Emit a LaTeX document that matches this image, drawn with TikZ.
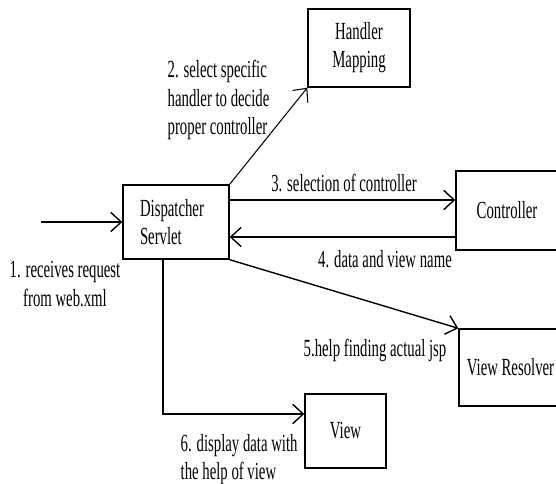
\documentclass[tikz,border=0pt]{standalone}
\usepackage{fontspec}
\setmainfont{Liberation Serif}[FakeStretch=0.6]
\usetikzlibrary{arrows.meta}

\begin{document}
\begin{tikzpicture}[x=0.02cm,y=-0.02cm,>={Straight Barb[length=6pt,width=11pt]},
  font=\fontsize{14pt}{16pt}\selectfont,line width=0.8pt,
  box/.style={draw,rectangle,inner sep=0pt,align=center},
  lbl/.style={inner sep=0pt,align=left}]
\useasboundingbox (0,0) rectangle (556,484);
\clip (0,0) rectangle (556,484);
% components
\node[box,minimum width=2.04cm,minimum height=1.56cm] (hm) at (359,48) {Handler\\Mapping};
\node[box,align=left,inner xsep=0.34cm,text width=1.44cm,minimum height=1.48cm] (ds) at (176,222) {Dispatcher\\Servlet};
\node[box,minimum width=2.04cm,minimum height=1.58cm] (ctl) at (507,210.5) {Controller};
\node[box,minimum width=2.06cm,minimum height=1.54cm] (vr) at (510.5,367.5) {View Resolver};
\node[box,minimum width=1.62cm,minimum height=1.48cm] (vw) at (345.5,431) {View};
% flow
\coordinate (src) at (41,222);
\draw[->] (src) -- (ds);
\draw[->,line width=0.6pt] (ds.north east) -- (hm.south west);
\draw[->] ([yshift=0.44cm]ds.east) -- ([yshift=0.44cm]ds.east -| ctl.west);
\draw[->] ([yshift=-0.3cm]ds.east -| ctl.west) -- ([yshift=-0.3cm]ds.east);
\draw[->] (ds.south east) -- (vr.north west);
\draw[->] ([xshift=-0.26cm]ds.south) |- ([yshift=0.34cm]vw.west);
% step labels
\node[lbl,align=center] (l1) at (65,284) {1. receives request\\from web.xml};
\node[lbl,anchor=west] (l2) at (167,100) {2. select specific\\handler to decide\\proper controller};
\node[lbl] (l3) at (344,183) {3. selection of controller};
\node[lbl] (l4) at (385,259) {4. data and view name};
\node[lbl] (l5) at (375,350) {5.help finding actual jsp};
\node[lbl,anchor=west] (l6) at (180,460) {6. display data with\\the help of view};
\end{tikzpicture}
\end{document}
